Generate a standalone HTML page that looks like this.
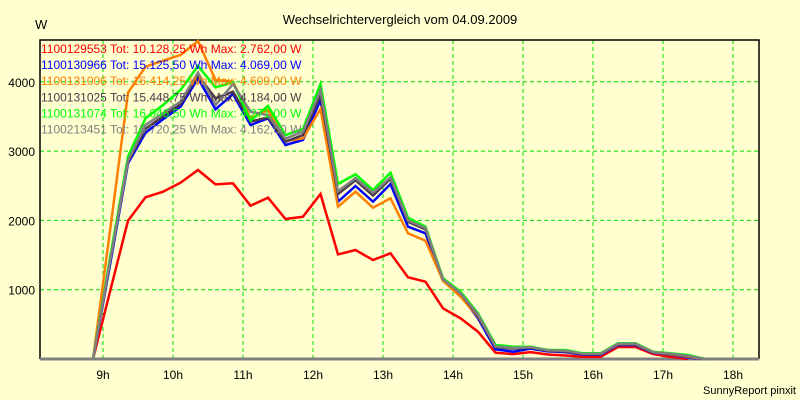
<!DOCTYPE html>
<html><head><meta charset="utf-8"><style>
body{margin:0;background:#ffffd0;}
svg{display:block;font-family:"Liberation Sans",sans-serif;}
</style></head><body>
<svg id="chart" width="800" height="400">
<rect x="0" y="0" width="800" height="400" fill="#ffffd0"/>
<text x="400" y="24" font-size="13" text-anchor="middle" fill="#000">Wechselrichtervergleich vom 04.09.2009</text>
<text x="35" y="29" font-size="13" fill="#000">W</text>
<text x="796" y="394" font-size="11" text-anchor="end" fill="#000">SunnyReport pinxit</text>
<g id="grid"></g><g id="axes"></g><g id="series"></g><g id="legend"></g>
</svg>
<script>
const xTicks=[9,10,11,12,13,14,15,16,17,18];
const yTicks=[1000,2000,3000,4000];
const startHour=8.857, stepHour=0.25;
const seriesNames=["1100129553","1100130966","1100131006","1100131025","1100131074","1100213451"];
const seriesTotals=["Tot: 10.128,25 Wh Max: 2.762,00 W","Tot: 15.125,50 Wh Max: 4.069,00 W","Tot: 16.414,25 Wh Max: 4.609,00 W","Tot: 15.448,75 Wh Max: 4.184,00 W","Tot: 16.046,50 Wh Max: 4.271,00 W","Tot: 15.720,25 Wh Max: 4.162,00 W"];
const seriesColors=["#ff0000","#0000ff","#ff8000","#4b3a4b","#00ff00","#808080"];
const red=[0,1000,1996,2333,2414,2544,2727,2520,2535,2212,2328,2020,2054,2381,1510,1573,1429,1525,1179,1116,731,587,394,91,70,100,65,50,30,30,173,173,70,30,0];
const blue=[0,1400,2824,3266,3459,3641,4051,3603,3824,3377,3473,3088,3160,3737,2270,2496,2270,2525,1909,1814,1130,923,587,140,105,150,110,100,60,60,200,200,90,60,20,0];
const orange=[0,1900,3843,4218,4304,4387,4589,4026,4002,3473,3593,3146,3185,3608,2198,2414,2183,2319,1814,1707,1130,899,610,188,155,170,120,110,70,70,210,210,95,65,30,0];
const dark=[0,1450,2850,3320,3500,3680,4090,3762,3857,3425,3487,3136,3232,3809,2380,2580,2360,2600,1980,1870,1150,950,620,170,150,165,120,110,70,70,215,215,95,70,40,0];
const green=[0,1500,2920,3473,3665,3882,4228,3920,3992,3440,3651,3232,3319,3968,2525,2665,2439,2689,2039,1910,1164,972,659,202,178,178,130,130,82,82,226,226,106,82,58,0];
const gray=[0,1450,2860,3377,3545,3713,4133,3665,3968,3568,3520,3180,3280,3880,2420,2610,2400,2620,2000,1890,1150,950,640,180,160,170,125,120,75,75,220,220,100,75,45,0];
const allSeries=[red,blue,orange,dark,green,gray];
const L=40,R=759,T=40,B=359;
const xS=h=>103+(h-9)*70;
const yS=v=>B-v*0.0693;
const NS="http://www.w3.org/2000/svg";
function mk(tag,attrs,parent){const e=document.createElementNS(NS,tag);for(const k in attrs)e.setAttribute(k,attrs[k]);parent.appendChild(e);return e;}
const grid=document.getElementById('grid'),axes=document.getElementById('axes'),ser=document.getElementById('series'),leg=document.getElementById('legend');
xTicks.forEach(h=>{
 const l=mk('line',{x1:xS(h),x2:xS(h),y1:T,y2:B,stroke:'#00dd00','stroke-dasharray':'4,3','stroke-width':1},grid);
 
 
 const t=mk('text',{x:xS(h),y:379,'font-size':12,'text-anchor':'middle',fill:'#000'},axes);
 t.textContent=h+'h';
 
 
});
yTicks.forEach(v=>{
 const l=mk('line',{x1:L,x2:R,y1:yS(v),y2:yS(v),stroke:'#00dd00','stroke-dasharray':'4,3','stroke-width':1},grid);
 
 
 const t=mk('text',{x:35,y:yS(v)+5,'font-size':12,'text-anchor':'end',fill:'#000'},axes);
 t.textContent=v;
 
 
});
const fr=mk('path',{d:`M${L},${B}V${T}H${R}V${B}`,fill:'none',stroke:'#000','stroke-width':1.5},axes);


const base=mk('line',{x1:L,x2:R,y1:B,y2:B,stroke:'#808080','stroke-width':3},axes);


allSeries.forEach((s,i)=>{
 const pts=s.map((v,j)=>xS(startHour+j*stepHour).toFixed(1)+','+yS(v).toFixed(1)).join(' ');
 const p=mk('polyline',{points:pts,fill:'none',stroke:seriesColors[i],'stroke-width':2.5,'stroke-linejoin':'miter'},ser);
 
 
});
seriesNames.forEach((n,i)=>{
 const t=mk('text',{x:41,y:53+i*16.1,'font-size':12,fill:seriesColors[i]},leg);
 t.textContent=n+' '+seriesTotals[i];
 
 
});
</script>
</body></html>
